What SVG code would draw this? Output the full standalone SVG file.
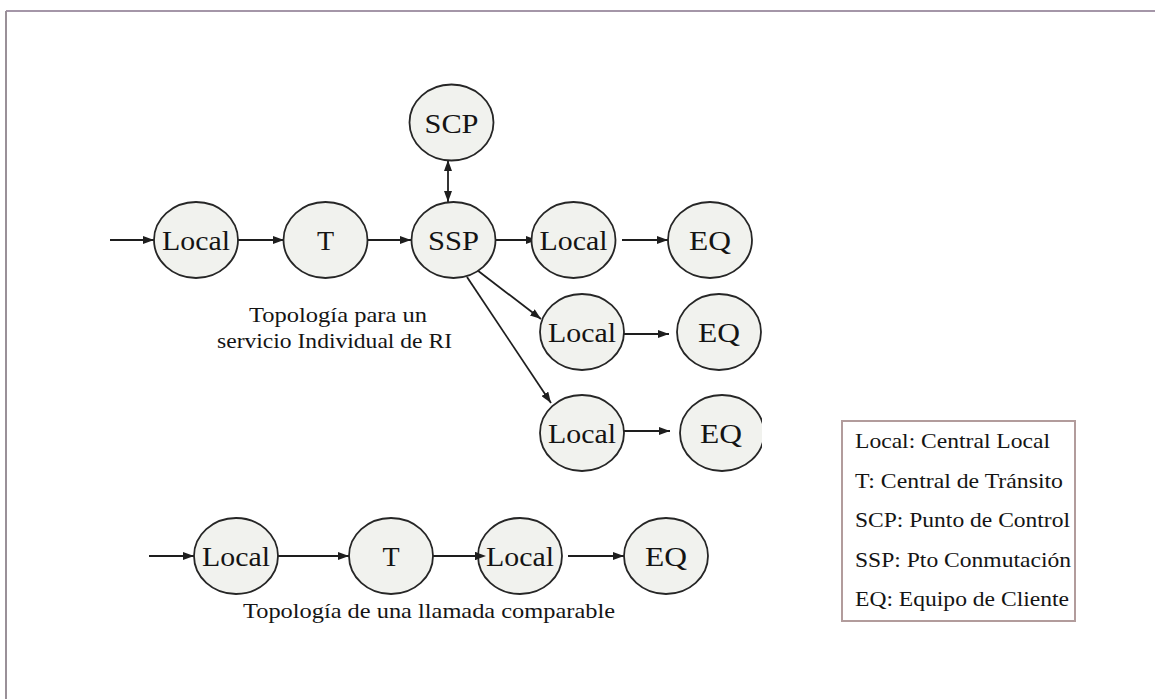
<svg xmlns="http://www.w3.org/2000/svg" width="1155" height="699" viewBox="0 0 1155 699">
  <style>
    .node ellipse { fill: #f1f2ee; stroke: #262626; stroke-width: 1.8; }
    .node text { font-family: "Liberation Serif", "Times New Roman", serif; font-size: 28px; fill: #141414; text-anchor: middle; }
    .edge { stroke: #1e1e1e; stroke-width: 1.8; fill: none; marker-end: url(#arrow); }
    .caption { font-family: "Liberation Serif", "Times New Roman", serif; font-size: 22px; fill: #141414; }
    .legend text { font-family: "Liberation Serif", "Times New Roman", serif; font-size: 21px; fill: #141414; }
  </style>
  <defs>
    <marker id="arrow" viewBox="0 0 11 8" markerWidth="11" markerHeight="8" refX="11" refY="4" orient="auto-start-reverse" markerUnits="userSpaceOnUse">
      <path d="M0,0 L11,4 L0,8 Z" fill="#1e1e1e"/>
    </marker>
    <clipPath id="cut">
      <rect x="0" y="0" width="762" height="699"/>
    </clipPath>
  </defs>

  <rect width="1155" height="699" fill="#ffffff"/>

  <!-- outer frame (top and left edges only) -->
  <g id="frame" fill="none">
    <line x1="6" y1="11" x2="1155" y2="11" stroke="#a496a8" stroke-width="2"/>
    <line x1="6" y1="11" x2="6" y2="699" stroke="#9a9098" stroke-width="2"/>
  </g>

  <!-- connectors -->
  <g id="connectors">
    <!-- upper topology -->
    <line class="edge" x1="110" y1="240" x2="154" y2="240"/>
    <line class="edge" x1="238" y1="240" x2="284" y2="240"/>
    <line class="edge" x1="367" y1="240" x2="411" y2="240"/>
    <line class="edge" x1="495" y1="240" x2="537" y2="240"/>
    <line class="edge" x1="622" y1="240" x2="668" y2="240"/>
    <line class="edge" x1="448" y1="160" x2="448" y2="202" style="marker-start:url(#arrow)"/>
    <line class="edge" x1="477" y1="270" x2="541" y2="319"/>
    <line class="edge" x1="467" y1="277" x2="551" y2="403"/>
    <line class="edge" x1="624" y1="334" x2="669" y2="334"/>
    <line class="edge" x1="624" y1="431" x2="670" y2="431"/>
    <!-- comparable call -->
    <line class="edge" x1="149" y1="556" x2="194" y2="556"/>
    <line class="edge" x1="277" y1="556" x2="349" y2="556"/>
    <line class="edge" x1="433" y1="556" x2="486" y2="556"/>
    <line class="edge" x1="568" y1="556" x2="624" y2="556"/>
  </g>

  <!-- upper topology nodes -->
  <g id="n-local1" class="node"><ellipse cx="196" cy="240" rx="42" ry="38"/><text x="196" y="250" textLength="68" lengthAdjust="spacingAndGlyphs">Local</text></g>
  <g id="n-t1" class="node"><ellipse cx="325.5" cy="240" rx="42" ry="38"/><text x="325.5" y="250">T</text></g>
  <g id="n-ssp" class="node"><ellipse cx="453.5" cy="240" rx="42" ry="38"/><text x="453.5" y="250" textLength="51" lengthAdjust="spacingAndGlyphs">SSP</text></g>
  <g id="n-scp" class="node"><ellipse cx="451.5" cy="122.5" rx="42" ry="38"/><text x="451.5" y="132.5" textLength="54" lengthAdjust="spacingAndGlyphs">SCP</text></g>
  <g id="n-local2" class="node"><ellipse cx="573.5" cy="240" rx="42" ry="38"/><text x="573.5" y="250" textLength="68" lengthAdjust="spacingAndGlyphs">Local</text></g>
  <g id="n-eq1" class="node"><ellipse cx="710" cy="240" rx="42" ry="38"/><text x="710" y="250" textLength="42" lengthAdjust="spacingAndGlyphs">EQ</text></g>
  <g id="n-local3" class="node"><ellipse cx="582" cy="332" rx="42" ry="38"/><text x="582" y="342" textLength="68" lengthAdjust="spacingAndGlyphs">Local</text></g>
  <g id="n-eq2" class="node" clip-path="url(#cut)"><ellipse cx="719" cy="332" rx="42" ry="38"/><text x="719" y="342" textLength="42" lengthAdjust="spacingAndGlyphs">EQ</text></g>
  <g id="n-local4" class="node"><ellipse cx="582" cy="433" rx="42" ry="38"/><text x="582" y="443" textLength="68" lengthAdjust="spacingAndGlyphs">Local</text></g>
  <g id="n-eq3" class="node" clip-path="url(#cut)"><ellipse cx="722" cy="433" rx="42" ry="38"/><text x="721" y="443" textLength="42" lengthAdjust="spacingAndGlyphs">EQ</text></g>

  <text class="caption" x="249" y="322" textLength="178" lengthAdjust="spacingAndGlyphs">Topología para un</text>
  <text class="caption" x="217" y="348" textLength="235" lengthAdjust="spacingAndGlyphs">servicio Individual de RI</text>

  <!-- comparable call nodes -->
  <g id="c-local1" class="node"><ellipse cx="236" cy="556" rx="42" ry="38"/><text x="236" y="566" textLength="68" lengthAdjust="spacingAndGlyphs">Local</text></g>
  <g id="c-t" class="node"><ellipse cx="391" cy="556" rx="42" ry="38"/><text x="391" y="566">T</text></g>
  <g id="c-local2" class="node"><ellipse cx="520" cy="556" rx="42" ry="38"/><text x="520" y="566" textLength="68" lengthAdjust="spacingAndGlyphs">Local</text></g>
  <g id="c-eq" class="node"><ellipse cx="666" cy="556" rx="42" ry="38"/><text x="666" y="566" textLength="42" lengthAdjust="spacingAndGlyphs">EQ</text></g>

  <!-- arrowhead entering the second Local sits over its outline -->
  <path d="M475,552 L486,556 L475,560 Z" fill="#1e1e1e"/>

  <text class="caption" x="243" y="618" textLength="372" lengthAdjust="spacingAndGlyphs">Topología de una llamada comparable</text>

  <!-- legend -->
  <g id="legend" class="legend">
    <rect x="842" y="421" width="233" height="200" fill="#ffffff" stroke="#b29c9c" stroke-width="2"/>
    <text x="855" y="448" textLength="195" lengthAdjust="spacingAndGlyphs">Local: Central Local</text>
    <text x="855" y="488" textLength="208" lengthAdjust="spacingAndGlyphs">T: Central de Tránsito</text>
    <text x="855" y="527" textLength="215" lengthAdjust="spacingAndGlyphs">SCP: Punto de Control</text>
    <text x="855" y="567" textLength="216" lengthAdjust="spacingAndGlyphs">SSP: Pto Conmutación</text>
    <text x="855" y="606" textLength="214" lengthAdjust="spacingAndGlyphs">EQ: Equipo de Cliente</text>
  </g>
</svg>
